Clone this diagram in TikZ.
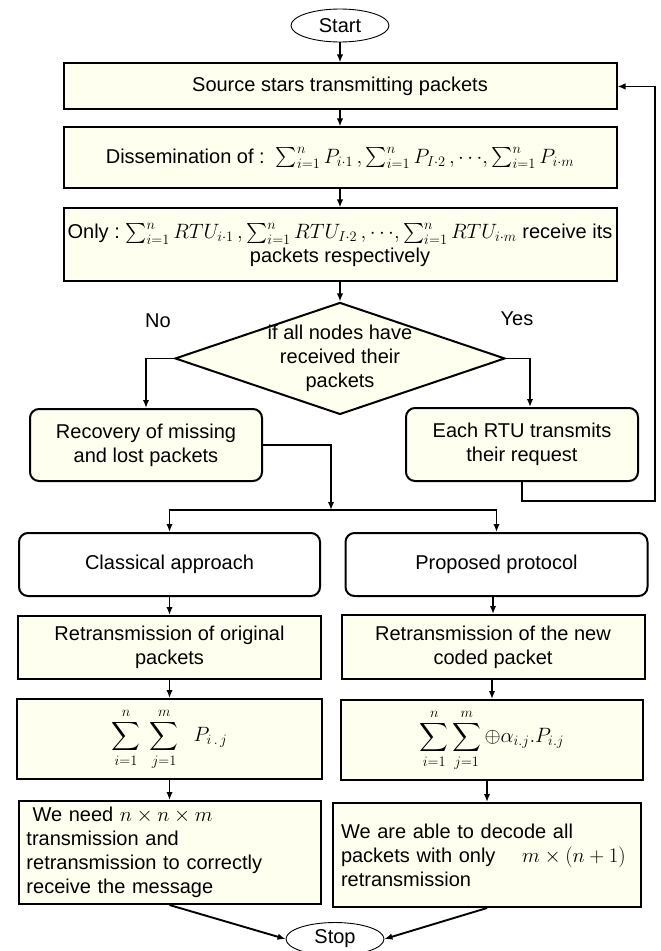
\documentclass[tikz,border=0pt]{standalone}
\usepackage{amsmath}
\usepackage{amssymb}
\usepackage{fontspec}
\setmainfont{Liberation Sans}
\usetikzlibrary{arrows.meta,positioning,shapes.geometric}
\definecolor{cream}{RGB}{255,255,240}

\begin{document}
\begin{tikzpicture}[x=1pt, y=1pt,
  font=\fontsize{20}{24}\selectfont,
  process/.style={draw, line width=2pt, fill=cream, align=center, inner sep=4pt},
  roundproc/.style={process, rounded corners=9pt},
  roundplain/.style={process, rounded corners=9pt, fill=white},
  terminal/.style={draw, ellipse, line width=0.9pt, fill=white, inner sep=0pt, minimum width=98pt, minimum height=33pt},
  decision/.style={draw, diamond, aspect=2.95, line width=2pt, fill=cream, inner sep=0pt, minimum width=330pt, minimum height=112pt},
  flow/.style={-{Latex[length=8pt,width=6.5pt]}, line width=1.9pt}]
 \useasboundingbox (0,0) rectangle (661,-951);

 % Main column - broadcast
 \node[terminal] (start) at (340,-25.5) {Start};
 \node[process, minimum width=553pt, minimum height=46pt, below=20pt of start] (source) {Source stars transmitting packets};
 \node[process, minimum width=553pt, minimum height=61pt, below=16pt of source] (dissem)
   {Dissemination of :\ \ $\sum_{i=1}^{n}P_{i\cdot 1}\,,\sum_{i=1}^{n}P_{I\cdot 2}\,,{\cdots}{,}\sum_{i=1}^{n}P_{i\cdot m}$};
 \node[process, minimum width=553pt, minimum height=73pt, below=18pt of dissem] (only)
   {Only :\ $\sum_{i=1}^{n}RTU_{i\cdot 1}\,,\sum_{i=1}^{n}RTU_{I\cdot 2}\,,{\cdots}{,}\sum_{i=1}^{n}RTU_{i\cdot m}$ receive its\\packets respectively};
 \node[decision, below=19pt of only] (check) {};
 \node[align=center] (checktext) at (check) {if all nodes have\\received their\\packets};
 \node (no) at (158,-321) {No};
 \node (yes) at (517,-319) {Yes};

 % Branches
 \node[roundproc, minimum width=232pt, minimum height=72pt] (recover) at (146,-445) {Recovery of missing\\and lost packets};
 \node[roundproc, minimum width=232pt, minimum height=73pt] (request) at (522,-444.5) {Each RTU transmits\\their request};
 \node[roundplain, minimum width=301pt, minimum height=63pt] (classic) at (169.5,-564.5) {Classical approach};
 \node[roundplain, minimum width=302pt, minimum height=63pt] (proposed) at (496.5,-564.5) {Proposed protocol};

 % Left column - classical approach
 \node[process, minimum width=303pt, minimum height=63pt, below=18pt of classic] (retrorig) {Retransmission of original\\packets};
 \node[process, minimum width=305pt, minimum height=80pt, below=18pt of retrorig] (sumorig)
   {$\displaystyle\sum_{i=1}^{n}\;\sum_{j=1}^{m}\;\;P_{i\,.\,j}$};
 \node[process, minimum width=302pt, minimum height=103pt, text width=286pt, align=left, below=20pt of sumorig] (needorig)
   {\hspace{6pt}We need $n\times n\times m$\\transmission and\\retransmission to correctly\\receive the message};

 % Right column - proposed protocol
 \node[process, minimum width=303pt, minimum height=64pt, below=17pt of proposed, xshift=-3.5pt] (retrnew) {Retransmission of the new\\coded packet};
 \node[process, minimum width=302pt, minimum height=80pt, below=19pt of retrnew, xshift=-1pt] (sumnew)
   {$\displaystyle\sum_{i=1}^{n}\sum_{j=1}^{m}\oplus\alpha_{i.j}.P_{i.j}$};
 \node[process, minimum width=308pt, minimum height=104pt, text width=292pt, align=left, below=21pt of sumnew, xshift=-5pt] (ablenew)
   {We are able to decode all\\packets with only\quad\ $m\times(n+1)$\\retransmission};

 \node[terminal] (stop) at (335,-939) {Stop};

 % Arrows
 \draw[flow] (start) -- (source);
 \draw[flow] (source) -- (dissem);
 \draw[flow] (dissem) -- (only);
 \draw[flow] (only) -- (check);
 \draw[flow] (check.west) -| (recover.north);
 \draw[flow] (check.east) -| ([xshift=8pt]request.north);
 \coordinate (merge) at (331,-510);
 \draw[flow] (recover.east) -| (merge);
 \draw[flow] (merge) -| (classic.north);
 \draw[flow] (merge) -| (proposed.north);
 \coordinate (loop) at (655,-501);
 \draw[flow] (request.south) |- (loop) |- (source.east);
 \draw[flow] (classic) -- (retrorig);
 \draw[flow] (retrorig) -- (sumorig);
 \draw[flow] (sumorig) -- (needorig);
 \draw[flow] (proposed.south -| retrnew.north) -- (retrnew.north);
 \draw[flow] (retrnew.south -| sumnew.north) -- (sumnew.north);
 \draw[flow] (sumnew.south -| ablenew.north) -- (ablenew.north);
 \draw[flow] (needorig.south) -- (stop.west);
 \draw[flow] (ablenew.south) -- (stop.east);
\end{tikzpicture}
\end{document}
